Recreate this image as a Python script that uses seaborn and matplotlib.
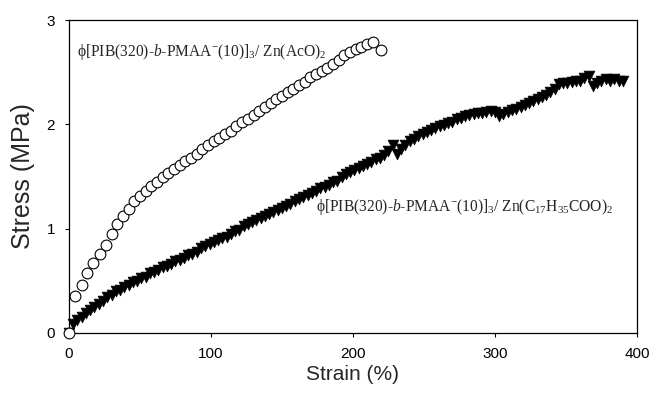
import numpy as np
import pandas as pd
import seaborn as sns
import matplotlib.pyplot as plt

# Zn(AcO)2 series (open circles)
strain_aco = [0, 4, 9, 13, 17, 22, 26, 30, 34, 38, 42, 46, 50, 54, 58, 62, 66, 70,
              74, 78, 82, 86, 90, 94, 98, 102, 106, 110, 114, 118, 122, 126, 130,
              134, 138, 142, 146, 150, 154, 158, 162, 166, 170, 174, 178, 182, 186,
              190, 194, 198, 202, 206, 210, 214, 220]
stress_aco = [0.00, 0.35, 0.46, 0.57, 0.67, 0.76, 0.84, 0.95, 1.04, 1.12, 1.19, 1.26,
              1.31, 1.36, 1.41, 1.45, 1.49, 1.53, 1.57, 1.61, 1.65, 1.68, 1.72, 1.76,
              1.80, 1.84, 1.87, 1.91, 1.94, 1.98, 2.02, 2.05, 2.09, 2.13, 2.17, 2.20,
              2.24, 2.27, 2.31, 2.34, 2.38, 2.41, 2.45, 2.48, 2.51, 2.54, 2.58, 2.62,
              2.66, 2.69, 2.72, 2.74, 2.77, 2.79, 2.71]

# Zn stearate series (filled down triangles)
strain_st = [0, 3, 6, 9, 12, 15, 18, 21, 24, 27, 30, 33, 36, 39, 42, 45, 48, 51, 54,
             57, 60, 63, 66, 69, 72, 75, 78, 81, 84, 87, 90, 93, 96, 99, 102, 105,
             108, 111, 114, 117, 120, 123, 126, 129, 132, 135, 138, 141, 144, 147,
             150, 153, 156, 159, 162, 165, 168, 171, 174, 177, 180, 183, 186, 189,
             192, 195, 198, 201, 204, 207, 210, 213, 216, 219, 222, 225, 228, 231,
             234, 237, 240, 243, 246, 249, 252, 255, 258, 261, 264, 267, 270, 273,
             276, 279, 282, 285, 288, 291, 294, 297, 300, 303, 306, 309, 312, 315,
             318, 321, 324, 327, 330, 333, 336, 339, 342, 345, 348, 351, 354, 357,
             360, 363, 366, 369, 372, 375, 378, 381, 384, 387, 390]
stress_st = [0.00, 0.08, 0.12, 0.15, 0.19, 0.22, 0.25, 0.28, 0.31, 0.34, 0.36, 0.40,
             0.41, 0.44, 0.46, 0.49, 0.50, 0.53, 0.54, 0.57, 0.58, 0.60, 0.63, 0.64,
             0.66, 0.69, 0.70, 0.72, 0.75, 0.76, 0.78, 0.81, 0.83, 0.85, 0.87, 0.89,
             0.91, 0.92, 0.95, 0.98, 0.99, 1.02, 1.04, 1.06, 1.08, 1.10, 1.12, 1.14,
             1.16, 1.18, 1.20, 1.22, 1.24, 1.26, 1.28, 1.30, 1.32, 1.34, 1.36, 1.39,
             1.40, 1.42, 1.45, 1.46, 1.49, 1.52, 1.54, 1.56, 1.58, 1.60, 1.62, 1.64,
             1.67, 1.68, 1.71, 1.74, 1.80, 1.72, 1.76, 1.80, 1.84, 1.86, 1.89, 1.91,
             1.93, 1.95, 1.96, 1.98, 1.99, 2.01, 2.02, 2.05, 2.06, 2.08, 2.09, 2.10,
             2.11, 2.11, 2.12, 2.13, 2.12, 2.08, 2.10, 2.12, 2.14, 2.15, 2.17, 2.19,
             2.20, 2.22, 2.24, 2.26, 2.28, 2.31, 2.34, 2.39, 2.40, 2.40, 2.41, 2.42,
             2.42, 2.44, 2.46, 2.37, 2.40, 2.42, 2.43, 2.42, 2.43, 2.42, 2.42]

x_ticks = [0, 100, 200, 300, 400]
y_ticks = [0, 1, 2, 3]

label_aco = r'ϕ[PIB(320)-$b$-PMAA$^{-}$(10)]$_3$/ Zn(AcO)$_2$'
label_st = r'ϕ[PIB(320)-$b$-PMAA$^{-}$(10)]$_3$/ Zn(C$_{17}$H$_{35}$COO)$_2$'

sns.set_style("ticks")
plt.rcParams['font.family'] = ['Liberation Sans', 'DejaVu Sans']
plt.rcParams['mathtext.fontset'] = 'custom'
plt.rcParams['mathtext.rm'] = 'Liberation Serif'
plt.rcParams['mathtext.it'] = 'Liberation Serif:italic'

df_aco = pd.DataFrame({'strain': strain_aco, 'stress': stress_aco})
df_st = pd.DataFrame({'strain': strain_st, 'stress': stress_st})

fig = plt.figure(figsize=(6.5, 4.01), dpi=100)
ax = fig.add_axes([0.106, 0.170, 0.874, 0.780])

sns.scatterplot(data=df_st, x='strain', y='stress', marker='v', s=60,
                color='black', edgecolor='black', linewidth=0.5, ax=ax,
                zorder=3, clip_on=False)
sns.scatterplot(data=df_aco, x='strain', y='stress', marker='o', s=60,
                facecolor='white', edgecolor='black', linewidth=0.8, ax=ax,
                zorder=4, clip_on=False)

ax.set_xlim(0, 400)
ax.set_ylim(0, 3)
ax.set_xticks(x_ticks)
ax.set_yticks(y_ticks)
ax.tick_params(labelsize=11, length=3, width=0.8, colors='black', pad=7)
for sp in ax.spines.values():
    sp.set_visible(True)
    sp.set_linewidth(0.9)
    sp.set_color('black')
ax.set_xlabel('Strain (%)', fontsize=15, labelpad=3)
ax.set_ylabel('Stress (MPa)', fontsize=18, labelpad=8)

ax.text(6, 2.69, label_aco, fontsize=11.2, family='Liberation Serif', va='center')
ax.text(174, 1.21, label_st, fontsize=11.2, family='Liberation Serif', va='center')

plt.savefig('out.png', dpi=100)
